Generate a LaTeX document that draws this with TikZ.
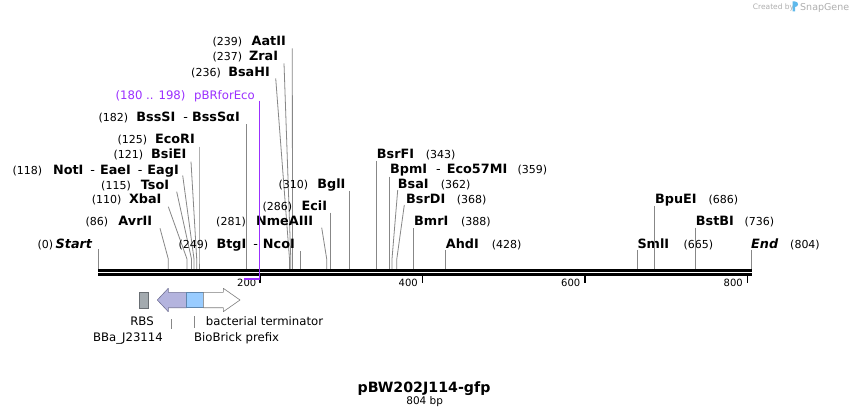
\documentclass[tikz,border=0pt]{standalone}
\usepackage{fontspec}
\setmainfont{DejaVu Sans}
\definecolor{linegray}{RGB}{135,135,135}
\definecolor{primer}{RGB}{155,48,255}
\definecolor{rbsfill}{RGB}{163,170,175}
\definecolor{rbsdraw}{RGB}{105,110,115}
\definecolor{promfill}{RGB}{180,180,222}
\definecolor{promdraw}{RGB}{115,115,150}
\definecolor{prefill}{RGB}{153,204,255}
\definecolor{predraw}{RGB}{95,135,175}
\definecolor{termdraw}{RGB}{125,125,125}
\definecolor{sgblue}{RGB}{95,185,235}
\definecolor{sggray}{RGB}{175,175,175}
\tikzset{
  num/.style={font=\fontsize{11}{13}\selectfont, inner sep=0pt},
  enz/.style={font=\fontsize{12.8}{14}\selectfont\bfseries, inner sep=0pt},
  feat/.style={font=\fontsize{11.7}{14}\selectfont, inner sep=0pt},
  ticklbl/.style={font=\fontsize{10}{12}\selectfont, inner sep=0pt, anchor=base east},
  site/.style={draw=linegray, line width=0.8pt},
  scaletick/.style={draw=black, line width=1.6pt},
}
\newcommand{\cutleft}[8]{%
  \node[num,anchor=base east] (n-#1) at (#2,#3) {#4};
  \node[enz,anchor=base east] (e-#1) at (#5,#3) {#6};
  \coordinate (l-#1) at (#7);
  \coordinate (s-#1) at (#8,269);
  \draw[site] (l-#1) -- ([yshift=10pt]s-#1) -- (s-#1);}
\newcommand{\cutright}[8]{%
  \node[enz,anchor=base west] (e-#1) at (#2,#3) {#4};
  \node[num,anchor=base west] (n-#1) at (#5,#3) {#6};
  \coordinate (l-#1) at (#7);
  \coordinate (s-#1) at (#8,269);
  \draw[site] (l-#1) -- ([yshift=10pt]s-#1) -- (s-#1);}
\newcommand{\dsh}[2]{\hspace{#1pt}{\mdseries -}\hspace{#2pt}}
\begin{document}
\begin{tikzpicture}[x=1pt,y=-1pt]
\fill[white] (0,0) rectangle (850,419);
\useasboundingbox (0,0) rectangle (850,419);

% backbone
\coordinate (bb-l) at (98.3,270.8);
\coordinate (bb-r) at (751.5,270.8);
\coordinate (bb2-l) at (98.3,274.6);
\coordinate (bb2-r) at (751.5,274.6);
\draw[line width=3pt] (bb-l) -- (bb-r);
\draw[line width=2.4pt] (bb2-l) -- (bb2-r);

% scale ticks
\coordinate (t-200-a) at (260.0,275); \coordinate (t-200-b) at (260.0,283);
\coordinate (t-400-a) at (422.4,275); \coordinate (t-400-b) at (422.4,283);
\coordinate (t-600-a) at (584.9,275); \coordinate (t-600-b) at (584.9,283);
\coordinate (t-800-a) at (747.3,275); \coordinate (t-800-b) at (747.3,283);
\draw[scaletick] (t-200-a) -- (t-200-b);
\draw[scaletick] (t-400-a) -- (t-400-b);
\draw[scaletick] (t-600-a) -- (t-600-b);
\draw[scaletick] (t-800-a) -- (t-800-b);
\node[ticklbl] (tl-200) at (256.5,286.5) {200};
\node[ticklbl] (tl-400) at (418,286.5) {400};
\node[ticklbl] (tl-600) at (580.5,286.5) {600};
\node[ticklbl] (tl-800) at (743,286.5) {800};

% left-side labels
\cutleft{start}{53.3}{248.5}{(0)}{92.3}{\itshape Start}{98.3,249.3}{98.3}
\cutleft{avr}{108.3}{226}{(86)}{152.3}{AvrII}{160,228.3}{168.3}
\cutleft{xba}{121.7}{204}{(110)}{161.7}{XbaI}{168.3,206.7}{187}
\cutleft{tso}{131}{189.3}{(115)}{169.3}{TsoI}{176.7,191.7}{191.5}
\cutleft{not}{42.3}{174.3}{(118)}{179}{NotI\dsh{7}{5}EaeI\dsh{7}{5}EagI}{182.7,175.5}{194}
\cutleft{bsie}{143.3}{159}{(121)}{186.7}{BsiEI}{191,161.7}{196.7}
\cutleft{eco}{147.3}{144}{(125)}{195}{EcoRI}{199,146.7}{199}
\cutleft{bsss}{128.3}{121.7}{(182)}{240}{BssSI\dsh{8}{4}BssSαI}{246.7,124.3}{246.7}
\cutleft{bsah}{221}{76.7}{(236)}{270}{BsaHI}{275.7,78.3}{289.5}
\cutleft{zra}{242.3}{60.7}{(237)}{278.3}{ZraI}{284,63.3}{290.8}
\cutleft{aat}{242.3}{46}{(239)}{286}{AatII}{292.3,48.3}{292.5}
\cutleft{btg}{208.3}{248.5}{(249)}{295}{BtgI\dsh{7}{5}NcoI}{300.7,251}{300.7}
\cutleft{nme}{246}{226}{(281)}{313.3}{NmeAIII}{321.7,227.7}{326.7}
\cutleft{eci}{292.3}{210.7}{(286)}{327.3}{EciI}{330.3,212.7}{330.3}
\cutleft{bgl}{308.3}{189}{(310)}{345.7}{BglI}{349.3,191}{349.3}

% right-side labels
\cutright{bsrf}{376.7}{159}{BsrFI}{425.7}{(343)}{376.7,161}{376.7}
\cutright{bpm}{390}{174}{BpmI\dsh{9}{6}Eco57MI}{517.3}{(359)}{389.6,176.7}{389.6}
\cutright{bsa}{397.7}{189}{BsaI}{440.7}{(362)}{397.7,190}{392}
\cutright{bsrd}{406}{204}{BsrDI}{456.7}{(368)}{404.3,205}{396.8}
\cutright{bmr}{414}{225.7}{BmrI}{461}{(388)}{413.3,228.3}{413.3}
\cutright{ahd}{445.7}{248.5}{AhdI}{491.7}{(428)}{445.5,250}{445.5}
\cutright{sml}{637.3}{248.5}{SmlI}{683.3}{(665)}{637.8,250}{637.8}
\cutright{bpu}{655}{204}{BpuEI}{708.3}{(686)}{654.8,206}{654.8}
\cutright{bstb}{695.7}{225.7}{BstBI}{744.3}{(736)}{695.5,227.7}{695.5}
\cutright{end}{751}{248.5}{\itshape End}{790}{(804)}{751.5,250}{751.5}

% primer pBRforEco
\node[feat,text=primer,anchor=base east] (n-pbr) at (185.7,99.3) {(180 .. 198)};
\node[feat,text=primer,anchor=base east] (e-pbr) at (255,99.3) {pBRforEco};
\coordinate (l-pbr) at (259.3,100.7);
\coordinate (s-pbr) at (259.3,280);
\coordinate (b-pbr-a) at (244.3,278.8);
\coordinate (b-pbr-b) at (259.3,278.8);
\draw[primer,line width=1pt] (l-pbr) -- (s-pbr);
\draw[primer,line width=2pt] (b-pbr-a) -- (b-pbr-b);

% features
\draw[rbsdraw,fill=rbsfill,line width=0.6pt] (139.3,292.7) rectangle (148.3,308.3);
\draw[promdraw,fill=promfill,line width=0.6pt,line join=round]
  (157.3,300) -- (168.3,288.3) -- (168.3,292.3) -- (186.7,292.3) -- (186.7,307.7)
  -- (168.3,307.7) -- (168.3,311.7) -- cycle;
\draw[predraw,fill=prefill,line width=0.6pt] (186.7,292.3) rectangle (203.3,307.7);
\draw[termdraw,fill=white,line width=0.6pt,line join=round]
  (203.3,292.3) -- (223.3,292.3) -- (223.3,288.3) -- (240,300) -- (223.3,311.7)
  -- (223.3,307.7) -- (203.3,307.7) -- cycle;

% feature labels
\node[feat,anchor=base] (f-rbs) at (142,325.7) {RBS};
\node[feat,anchor=base west] (f-term) at (205.7,325.7) {bacterial terminator};
\node[feat,anchor=base east] (f-prom) at (163,341.5) {BBa\_J23114};
\node[feat,anchor=base west] (f-pre) at (194,341.5) {BioBrick prefix};
\coordinate (c-prom-a) at (171,319.3);
\coordinate (c-prom-b) at (171,329);
\coordinate (c-pre-a) at (194.3,316);
\coordinate (c-pre-b) at (194.3,328.3);
\draw[site] (c-prom-a) -- (c-prom-b);
\draw[site] (c-pre-a) -- (c-pre-b);

% title
\node[inner sep=0pt,anchor=base,font=\fontsize{14.2}{16}\selectfont\bfseries] (title) at (424,392.8) {pBW202J114-gfp};
\node[inner sep=0pt,anchor=base,font=\fontsize{10.5}{12}\selectfont] (size) at (424.7,404) {804 bp};

% created by
\node[inner sep=0pt,anchor=base west,text=sggray,font=\fontsize{7.5}{9}\selectfont] (cb) at (752.7,10) {Created by};
\fill[sgblue] (792.5,1.5) -- (795,1.5) .. controls (799,1.5) and (799,7) .. (795,7) -- (795,11.5) -- (792.5,11.5) -- cycle;
\node[inner sep=0pt,anchor=base west,text=sggray,font=\fontsize{9.5}{11}\selectfont] (sg) at (800,10.3) {SnapGene};
\end{tikzpicture}
\end{document}
